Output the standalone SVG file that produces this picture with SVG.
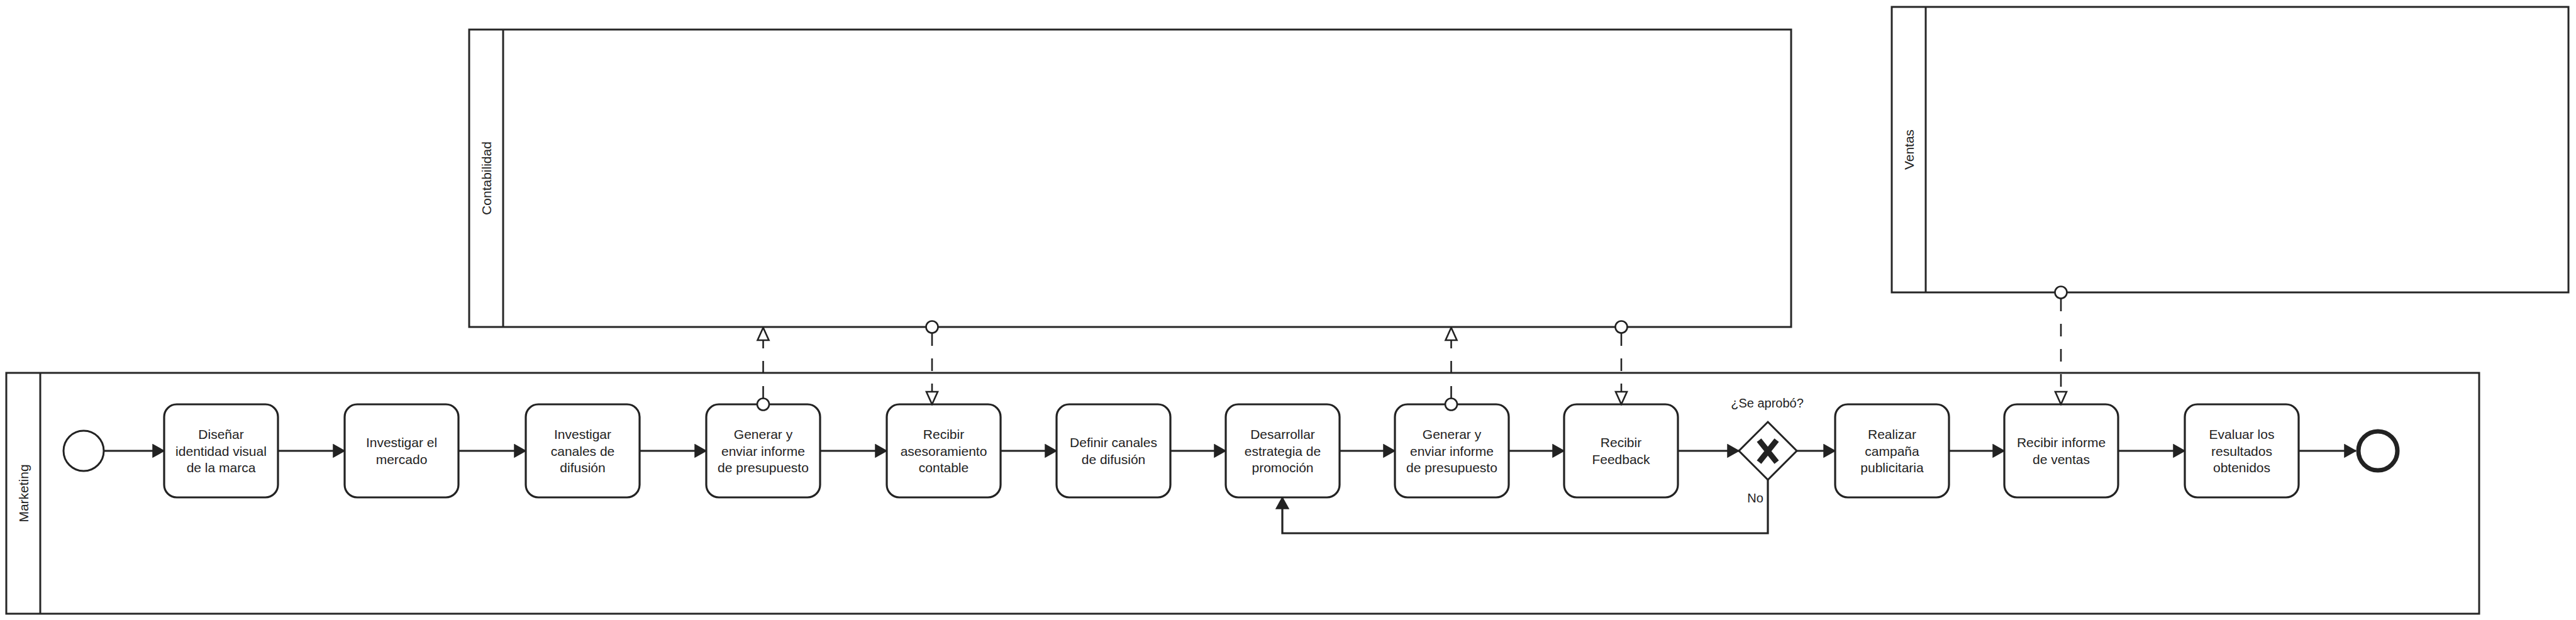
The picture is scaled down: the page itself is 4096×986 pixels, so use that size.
<svg xmlns="http://www.w3.org/2000/svg" width="4096" height="986" viewBox="0 0 4096 986">
<defs>
<style>
.pool{fill:#fff;stroke:#262626;stroke-width:3}
.hdr{stroke:#262626;stroke-width:3}
.task{fill:#fff;stroke:#222;stroke-width:3.2}
.lbl{font-family:"Liberation Sans",Arial,sans-serif;font-size:21px;fill:#222;text-anchor:middle}
.small{font-family:"Liberation Sans",Arial,sans-serif;font-size:20px;fill:#222;text-anchor:middle}
.pl{font-family:"Liberation Sans",Arial,sans-serif;font-size:21px;fill:#222;text-anchor:middle}
.seq{fill:none;stroke:#222;stroke-width:3.2}
.msg{fill:none;stroke:#222;stroke-width:2.6;stroke-dasharray:20 20}
.mc{fill:#fff;stroke:#222;stroke-width:2.6}
</style>
<marker id="arr" markerUnits="userSpaceOnUse" markerWidth="20" markerHeight="22" viewBox="0 0 20 22" refX="19" refY="11" orient="auto">
<path d="M1,1 L19,11 L1,21 Z" fill="#222" stroke="#222" stroke-width="1.5"/>
</marker>
<marker id="open" markerUnits="userSpaceOnUse" markerWidth="24" markerHeight="24" viewBox="0 0 24 24" refX="22" refY="12" orient="auto">
<path d="M2,3 L22,12 L2,21 Z" fill="#fff" stroke="#222" stroke-width="2.6"/>
</marker>
</defs>
<rect width="4096" height="986" fill="#fff"/>

<g id="pool-contabilidad">
<rect class="pool" x="746" y="47" width="2102" height="473"/>
<line class="hdr" x1="800" y1="47" x2="800" y2="520"/>
<text class="pl" transform="translate(781,283.5) rotate(-90)">Contabilidad</text>
</g>
<g id="pool-ventas">
<rect class="pool" x="3008" y="11" width="1076" height="454"/>
<line class="hdr" x1="3062" y1="11" x2="3062" y2="465"/>
<text class="pl" transform="translate(3042.5,238) rotate(-90)">Ventas</text>
</g>
<g id="pool-marketing">
<rect class="pool" x="10" y="593" width="3932" height="383"/>
<line class="hdr" x1="64" y1="593" x2="64" y2="976"/>
<text class="pl" transform="translate(44.5,784.5) rotate(-90)">Marketing</text>
</g>

<g id="start"><circle cx="133" cy="717" r="32" fill="#fff" stroke="#222" stroke-width="3"/></g>

<g id="t1"><rect class="task" x="261" y="643" width="181" height="148" rx="20"/>
<text class="lbl" x="351.5" y="698">Diseñar</text><text class="lbl" x="351.5" y="724.5">identidad visual</text><text class="lbl" x="351.5" y="751">de la marca</text></g>
<g id="t2"><rect class="task" x="548" y="643" width="181" height="148" rx="20"/>
<text class="lbl" x="638.5" y="711">Investigar el</text><text class="lbl" x="638.5" y="738">mercado</text></g>
<g id="t3"><rect class="task" x="836" y="643" width="181" height="148" rx="20"/>
<text class="lbl" x="926.5" y="698">Investigar</text><text class="lbl" x="926.5" y="724.5">canales de</text><text class="lbl" x="926.5" y="751">difusión</text></g>
<g id="t4"><rect class="task" x="1123" y="643" width="181" height="148" rx="20"/>
<text class="lbl" x="1213.5" y="698">Generar y</text><text class="lbl" x="1213.5" y="724.5">enviar informe</text><text class="lbl" x="1213.5" y="751">de presupuesto</text></g>
<g id="t5"><rect class="task" x="1410" y="643" width="181" height="148" rx="20"/>
<text class="lbl" x="1500.5" y="698">Recibir</text><text class="lbl" x="1500.5" y="724.5">asesoramiento</text><text class="lbl" x="1500.5" y="751">contable</text></g>
<g id="t6"><rect class="task" x="1680" y="643" width="181" height="148" rx="20"/>
<text class="lbl" x="1770.5" y="711">Definir canales</text><text class="lbl" x="1770.5" y="738">de difusión</text></g>
<g id="t7"><rect class="task" x="1949" y="643" width="181" height="148" rx="20"/>
<text class="lbl" x="2039.5" y="698">Desarrollar</text><text class="lbl" x="2039.5" y="724.5">estrategia de</text><text class="lbl" x="2039.5" y="751">promoción</text></g>
<g id="t8"><rect class="task" x="2218" y="643" width="181" height="148" rx="20"/>
<text class="lbl" x="2308.5" y="698">Generar y</text><text class="lbl" x="2308.5" y="724.5">enviar informe</text><text class="lbl" x="2308.5" y="751">de presupuesto</text></g>
<g id="t9"><rect class="task" x="2487" y="643" width="181" height="148" rx="20"/>
<text class="lbl" x="2577.5" y="711">Recibir</text><text class="lbl" x="2577.5" y="738">Feedback</text></g>
<g id="gw"><polygon points="2811,671 2857,717 2811,763 2765,717" fill="#fff" stroke="#222" stroke-width="3"/>
<path d="M2797,700 L2825,735 M2825,700 L2797,735" stroke="#222" stroke-width="9" fill="none"/>
<text class="small" x="2810" y="648">¿Se aprobó?</text></g>
<g id="t10"><rect class="task" x="2918" y="643" width="181" height="148" rx="20"/>
<text class="lbl" x="3008.5" y="698">Realizar</text><text class="lbl" x="3008.5" y="724.5">campaña</text><text class="lbl" x="3008.5" y="751">publicitaria</text></g>
<g id="t11"><rect class="task" x="3187" y="643" width="181" height="148" rx="20"/>
<text class="lbl" x="3277.5" y="711">Recibir informe</text><text class="lbl" x="3277.5" y="738">de ventas</text></g>
<g id="t12"><rect class="task" x="3474" y="643" width="181" height="148" rx="20"/>
<text class="lbl" x="3564.5" y="698">Evaluar los</text><text class="lbl" x="3564.5" y="724.5">resultados</text><text class="lbl" x="3564.5" y="751">obtenidos</text></g>
<g id="end"><circle cx="3781" cy="717" r="31" fill="#fff" stroke="#222" stroke-width="7"/></g>

<g id="connectors">
<line class="seq" x1="166" y1="717" x2="261" y2="717" marker-end="url(#arr)"/>
<line class="seq" x1="442" y1="717" x2="548" y2="717" marker-end="url(#arr)"/>
<line class="seq" x1="729" y1="717" x2="836" y2="717" marker-end="url(#arr)"/>
<line class="seq" x1="1017" y1="717" x2="1123" y2="717" marker-end="url(#arr)"/>
<line class="seq" x1="1304" y1="717" x2="1410" y2="717" marker-end="url(#arr)"/>
<line class="seq" x1="1591" y1="717" x2="1680" y2="717" marker-end="url(#arr)"/>
<line class="seq" x1="1861" y1="717" x2="1949" y2="717" marker-end="url(#arr)"/>
<line class="seq" x1="2130" y1="717" x2="2218" y2="717" marker-end="url(#arr)"/>
<line class="seq" x1="2399" y1="717" x2="2487" y2="717" marker-end="url(#arr)"/>
<line class="seq" x1="2668" y1="717" x2="2765" y2="717" marker-end="url(#arr)"/>
<line class="seq" x1="2857" y1="717" x2="2918" y2="717" marker-end="url(#arr)"/>
<line class="seq" x1="3099" y1="717" x2="3187" y2="717" marker-end="url(#arr)"/>
<line class="seq" x1="3368" y1="717" x2="3474" y2="717" marker-end="url(#arr)"/>
<line class="seq" x1="3655" y1="717" x2="3746" y2="717" marker-end="url(#arr)"/>
<path class="seq" d="M2811,763 L2811,848 L2039,848 L2039,791" marker-end="url(#arr)"/>
<text class="small" x="2791" y="799">No</text>

<line class="msg" x1="1213.5" y1="634" x2="1213.5" y2="521" marker-end="url(#open)"/>
<circle class="mc" cx="1213.5" cy="643" r="9.5"/>
<line class="msg" x1="1482" y1="530" x2="1482" y2="643" marker-end="url(#open)"/>
<circle class="mc" cx="1482" cy="520" r="9.5"/>
<line class="msg" x1="2307.5" y1="634" x2="2307.5" y2="521" marker-end="url(#open)"/>
<circle class="mc" cx="2307.5" cy="643" r="9.5"/>
<line class="msg" x1="2578" y1="530" x2="2578" y2="643" marker-end="url(#open)"/>
<circle class="mc" cx="2578" cy="520" r="9.5"/>
<line class="msg" x1="3277" y1="475" x2="3277" y2="643" marker-end="url(#open)"/>
<circle class="mc" cx="3277" cy="465" r="9.5"/>
</g>
</svg>
